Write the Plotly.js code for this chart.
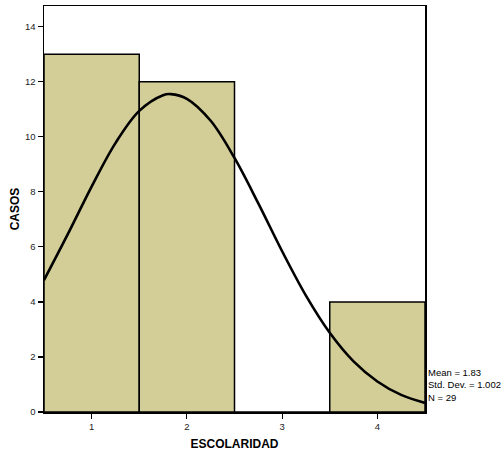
<!DOCTYPE html>
<html>
<head>
<meta charset="utf-8">
<script src="https://cdn.plot.ly/plotly-3.0.1.min.js"></script>
<style>html,body{margin:0;padding:0;background:#fff;}#chart{width:502px;height:453px;}</style>
</head>
<body>
<div id="chart"></div>
<script>
// Histogram bins (ESCOLARIDAD) and counts (CASOS)
const categories = [1, 2, 3, 4];
const counts = [13, 12, 0, 4];
// Normal curve
const curveX = [0.5, 0.75, 1.0, 1.25, 1.5, 1.75, 1.83, 2.0, 2.25, 2.5, 2.75, 3.0, 3.25, 3.5, 3.75, 4.0, 4.25, 4.5];
const curveY = [4.79, 6.46, 8.19, 9.77, 10.94, 11.51, 11.55, 11.38, 10.58, 9.23, 7.58, 5.84, 4.23, 2.88, 1.84, 1.11, 0.62, 0.33];
const statsLines = ["Mean = 1.83", "Std. Dev. = 1.002", "N = 29"];
const yTicks = [0, 2, 4, 6, 8, 10, 12, 14];
const xTicks = [1, 2, 3, 4];

const font = "Liberation Sans, Arial, sans-serif";

const traces = [
  {
    type: "bar",
    x: categories,
    y: counts,
    width: 1,
    marker: {color: "rgb(211,206,152)", line: {color: "#000", width: 1.5}},
    hoverinfo: "x+y"
  },
  {
    type: "scatter",
    mode: "lines",
    x: curveX,
    y: curveY,
    line: {color: "#000", width: 2.6, shape: "spline", smoothing: 1},
    hoverinfo: "skip"
  }
];

const layout = {
  width: 502,
  height: 453,
  margin: {l: 44, r: 77, t: 6, b: 41},
  paper_bgcolor: "#fff",
  plot_bgcolor: "#fff",
  showlegend: false,
  bargap: 0,
  font: {family: font, color: "#000", size: 9.5},
  xaxis: {
    range: [0.5, 4.5],
    tickvals: xTicks,
    ticktext: xTicks.map(String),
    ticks: "outside",
    ticklen: 5,
    tickwidth: 1.2,
    tickcolor: "#000",
    showline: true,
    linecolor: "#000",
    linewidth: 1.5,
    mirror: true,
    showgrid: false,
    zeroline: false,
    tickfont: {size: 9.5, color: "#222"},
    title: {text: "<b>ESCOLARIDAD</b>", font: {size: 12, family: font, color: "#000"}, standoff: 8}
  },
  yaxis: {
    range: [0, 14.75],
    tickvals: yTicks,
    ticks: "outside",
    ticklen: 5,
    tickwidth: 1.2,
    tickcolor: "#000",
    showline: true,
    linecolor: "#000",
    linewidth: 1.5,
    mirror: true,
    showgrid: false,
    zeroline: false,
    tickfont: {size: 9.5, color: "#222"},
    title: {text: "<b>CASOS</b>", font: {size: 12, family: font, color: "#000"}, standoff: 3}
  },
  annotations: [{
    xref: "paper", yref: "paper",
    x: 1.003, y: 0.017,
    xanchor: "left", yanchor: "bottom",
    align: "left",
    showarrow: false,
    text: statsLines.join("<br>"),
    font: {size: 9.5, family: font, color: "#000"}
  }]
};

Plotly.newPlot("chart", traces, layout, {displayModeBar: false, staticPlot: true});
</script>
</body>
</html>
